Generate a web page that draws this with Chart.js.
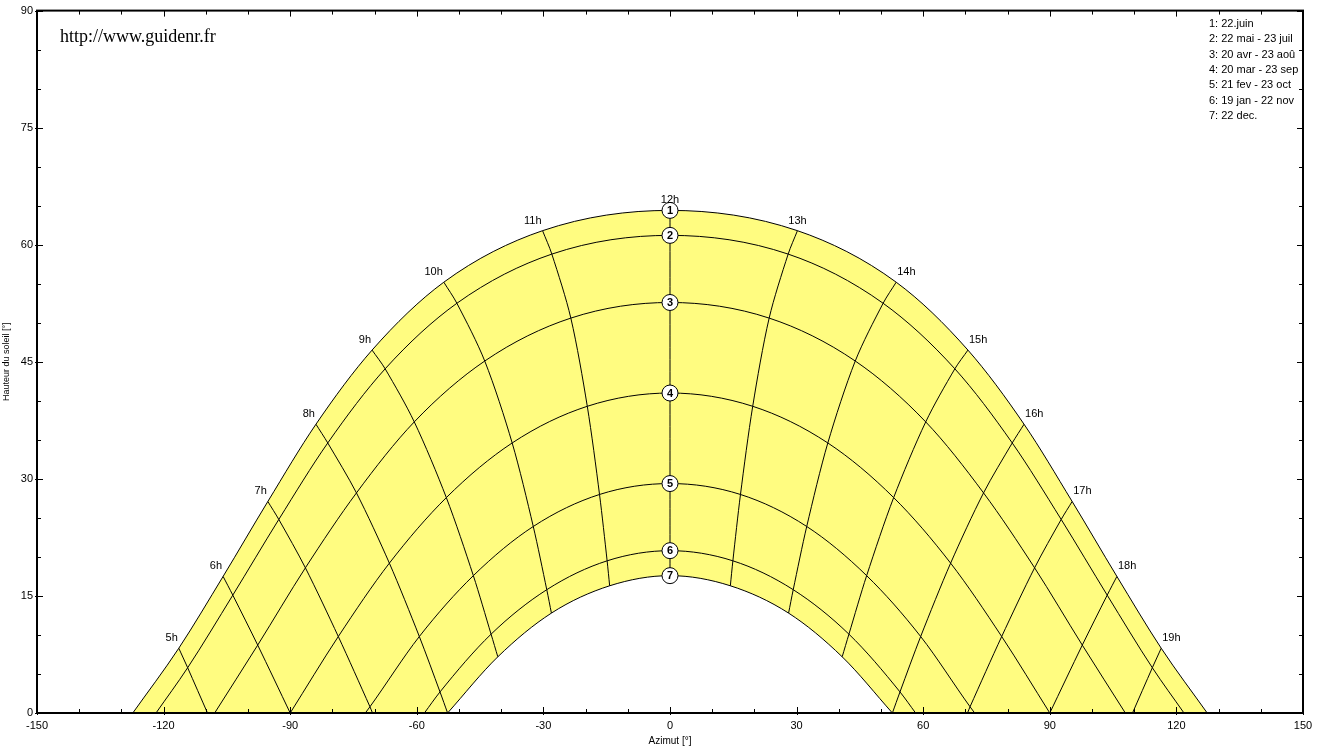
<!DOCTYPE html>
<html>
<head>
<meta charset="utf-8">
<script src="https://cdn.jsdelivr.net/npm/chart.js@4.4.0/dist/chart.umd.min.js"></script>
<style>
  html, body { margin: 0; padding: 0; background: #fff; }
</style>
</head>
<body>
<canvas id="chart" width="1320" height="749"></canvas>
<script>
/* ===== Diagramme solaire (hauteur / azimut) ===== */

// heures solaires, de 5h a 19h
const hourLabels = ['5h', '6h', '7h', '8h', '9h', '10h', '11h', '12h', '13h', '14h', '15h', '16h', '17h', '18h', '19h'];

// azimut [°] et hauteur [°] du soleil a chaque heure (null = sous l'horizon)
const jun22Az  = [-116.4, -105.9, -95.3, -83.9, -70.6, -53.6, -30.2, 0, 30.2, 53.6, 70.6, 83.9, 95.3, 105.9, 116.4];
const jun22Alt = [8.3, 17.5, 27.1, 37.0, 46.5, 55.2, 61.8, 64.4, 61.8, 55.2, 46.5, 37.0, 27.1, 17.5, 8.3];
const may22Az  = [-114.3, -103.6, -92.7, -81.1, -67.5, -50.5, -28.0, 0, 28.0, 50.5, 67.5, 81.1, 92.7, 103.6, 114.3];
const may22Alt = [5.8, 15.1, 24.8, 34.6, 44.1, 52.5, 58.8, 61.2, 58.8, 52.5, 44.1, 34.6, 24.8, 15.1, 5.8];
const apr20Az  = [null, -97.7, -86.4, -74.3, -60.6, -43.9, -23.5, 0, 23.5, 43.9, 60.6, 74.3, 86.4, 97.7, null];
const apr20Alt = [null, 8.7, 18.6, 28.2, 37.3, 45.1, 50.6, 52.6, 50.6, 45.1, 37.3, 28.2, 18.6, 8.7, null];
const mar20Az  = [null, null, -78.6, -66.5, -53.0, -37.4, -19.6, 0, 19.6, 37.4, 53.0, 66.5, 78.6, null, null];
const mar20Alt = [null, null, 9.8, 19.2, 27.6, 34.6, 39.3, 41.0, 39.3, 34.6, 27.6, 19.2, 9.8, null, null];
const feb21Az  = [null, null, -71.1, -59.4, -46.6, -32.4, -16.7, 0, 16.7, 32.4, 46.6, 59.4, 71.1, null, null];
const feb21Alt = [null, null, 0.8, 9.8, 17.6, 23.9, 28.0, 29.4, 28.0, 23.9, 17.6, 9.8, 0.8, null, null];
const jan19Az  = [null, null, null, -54.5, -42.4, -29.2, -14.9, 0, 14.9, 29.2, 42.4, 54.5, null, null, null];
const jan19Alt = [null, null, null, 2.7, 10.1, 15.8, 19.5, 20.8, 19.5, 15.8, 10.1, 2.7, null, null, null];
const dec22Az  = [null, null, null, null, -40.8, -28.1, -14.3, 0, 14.3, 28.1, 40.8, null, null, null, null];
const dec22Alt = [null, null, null, null, 7.2, 12.8, 16.3, 17.6, 16.3, 12.8, 7.2, null, null, null, null];

// lever et coucher (hauteur 0), dans l'ordre des courbes 1..7
const riseAz = [-127.3, -121.8, -107.9, -90.0, -72.2, -58.2, -52.7];
const setAz  = [127.3, 121.8, 107.9, 90.0, 72.2, 58.2, 52.7];

// point ou chaque ligne horaire rejoint l'horizon
const hourFootAz = [-109.6, -90.0, -70.5, -52.7, null, null, null, null, null, null, null, 52.7, 70.5, 90.0, 109.6];

const legendLabels = [
  '1: 22.juin',
  '2: 22 mai - 23 juil',
  '3: 20 avr - 23 aoû',
  '4: 20 mar - 23 sep',
  '5: 21 fev - 23 oct',
  '6: 19 jan - 22 nov',
  '7: 22 dec.'
];

const dayAz  = [jun22Az, may22Az, apr20Az, mar20Az, feb21Az, jan19Az, dec22Az];
const dayAlt = [jun22Alt, may22Alt, apr20Alt, mar20Alt, feb21Alt, jan19Alt, dec22Alt];
const NOON = hourLabels.indexOf('12h');

const YELLOW = 'rgb(255,252,128)';
const FONT = "'Liberation Sans', Arial, sans-serif";

Chart.defaults.font.family = FONT;
Chart.defaults.font.size = 11;
Chart.defaults.color = '#000';

function dayCurve(d) {
  const pts = [{ x: riseAz[d], y: 0 }];
  dayAz[d].forEach((az, i) => {
    if (az !== null) pts.push({ x: az, y: dayAlt[d][i] });
  });
  pts.push({ x: setAz[d], y: 0 });
  return pts;
}

function hourLine(i) {
  const pts = [];
  for (let d = 0; d < dayAz.length; d++) {
    if (dayAz[d][i] !== null) pts.push({ x: dayAz[d][i], y: dayAlt[d][i] });
  }
  if (hourFootAz[i] !== null) pts.push({ x: hourFootAz[i], y: 0 });
  return pts;
}

const datasets = [];

// 12h markers (index 0 -> drawn on top)
datasets.push({
  type: 'scatter',
  data: dayAlt.map(a => ({ x: 0, y: a[NOON] })),
  pointRadius: 8,
  pointBackgroundColor: '#fff',
  pointBorderColor: '#000',
  pointBorderWidth: 1,
  showLine: false
});

// day curves, 7 first so that the yellow fill (curve 1) is painted before the white one
for (let d = dayAz.length - 1; d >= 0; d--) {
  datasets.push({
    data: dayCurve(d),
    borderColor: '#000',
    borderWidth: 1,
    pointRadius: 0,
    cubicInterpolationMode: 'monotone',
    fill: d === 0 || d === dayAz.length - 1 ? 'origin' : false,
    backgroundColor: d === 0 ? YELLOW : '#fff'
  });
}

// hour lines
hourLabels.forEach((h, i) => {
  datasets.push({
    data: hourLine(i),
    borderColor: '#000',
    borderWidth: 1,
    pointRadius: 0,
    tension: 0.3,
    fill: false
  });
});

const decor = {
  id: 'decor',
  afterDatasetsDraw(chart) {
    const { ctx, chartArea: { left, right, top, bottom } } = chart;
    const xs = chart.scales.x, ys = chart.scales.y;
    ctx.save();

    // frame
    ctx.strokeStyle = '#000';
    ctx.lineWidth = 2;
    ctx.strokeRect(left, top, right - left, bottom - top);

    // inward ticks, labelled ones a bit longer
    ctx.lineWidth = 1;
    ctx.beginPath();
    for (let v = -150; v <= 150; v += 10) {
      const px = Math.round(xs.getPixelForValue(v)) + 0.5;
      const len = v % 30 === 0 ? 6 : 4;
      ctx.moveTo(px, bottom + (len === 6 ? 2 : 0)); ctx.lineTo(px, bottom - len);
      ctx.moveTo(px, top); ctx.lineTo(px, top + len);
    }
    for (let v = 0; v <= 90; v += 5) {
      const py = Math.round(ys.getPixelForValue(v)) + 0.5;
      const len = v % 15 === 0 ? 6 : 4;
      ctx.moveTo(left - (len === 6 ? 2 : 0), py); ctx.lineTo(left + len, py);
      ctx.moveTo(right, py); ctx.lineTo(right - len, py);
    }
    ctx.stroke();

    // hour labels along curve 1
    ctx.font = '11px ' + FONT;
    ctx.fillStyle = '#000';
    ctx.textBaseline = 'alphabetic';
    hourLabels.forEach((h, i) => {
      const px = xs.getPixelForValue(jun22Az[i]);
      const py = ys.getPixelForValue(jun22Alt[i]);
      if (i < NOON) { ctx.textAlign = 'right'; ctx.fillText(h, px - 1, py - 7); }
      else if (i <= NOON + 1) { ctx.textAlign = 'center'; ctx.fillText(h, px, py - 7); }
      else { ctx.textAlign = 'left'; ctx.fillText(h, px + 1, py - 7); }
    });

    // numbers inside the 12h markers
    ctx.font = 'bold 11px ' + FONT;
    ctx.textAlign = 'center';
    ctx.textBaseline = 'middle';
    dayAlt.forEach((a, d) => {
      ctx.fillText(String(d + 1), xs.getPixelForValue(0), ys.getPixelForValue(a[NOON]) + 0.5);
    });

    // legend, top right
    ctx.font = '11px ' + FONT;
    ctx.textAlign = 'left';
    ctx.textBaseline = 'alphabetic';
    legendLabels.forEach((t, k) => ctx.fillText(t, 1209, 27 + k * 15.3));

    // site name
    ctx.font = "18px 'Liberation Serif', 'Times New Roman', serif";
    ctx.fillText('http://www.guidenr.fr', 60, 42);

    ctx.restore();
  }
};

new Chart(document.getElementById('chart'), {
  type: 'line',
  data: { datasets },
  options: {
    responsive: false,
    devicePixelRatio: 1,
    animation: false,
    layout: { padding: { left: 0, top: 9, right: 17, bottom: 0 } },
    plugins: {
      legend: { display: false },
      tooltip: { enabled: false },
      filler: { drawTime: 'beforeDatasetsDraw' }
    },
    scales: {
      x: {
        type: 'linear',
        min: -150,
        max: 150,
        grid: { display: false, drawTicks: false },
        border: { display: false },
        ticks: { stepSize: 30, padding: 6, color: '#000', maxRotation: 0 },
        title: { display: true, text: 'Azimut [°]', color: '#000', font: { size: 10 }, padding: { top: 0, bottom: 2 } },
        afterFit: s => { s.height = 36; }
      },
      y: {
        type: 'linear',
        min: 0,
        max: 90,
        grid: { display: false, drawTicks: false },
        border: { display: false },
        ticks: { stepSize: 15, padding: 4, color: '#000' },
        title: { display: true, text: 'Hauteur du soleil [°]', color: '#000', font: { size: 9 }, padding: { top: 1, bottom: 0 } },
        afterFit: s => { s.width = 37; }
      }
    }
  },
  plugins: [decor]
});
</script>
</body>
</html>
